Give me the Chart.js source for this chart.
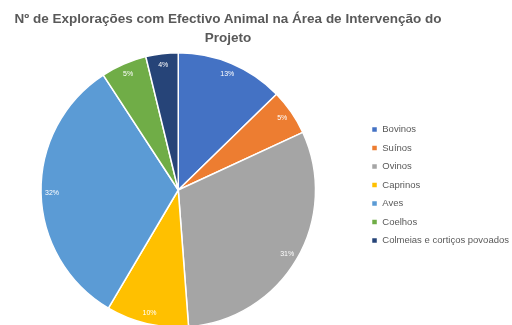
<!DOCTYPE html>
<html>
<head>
<meta charset="utf-8">
<script src="https://cdn.jsdelivr.net/npm/chart.js@4.4.0/dist/chart.umd.min.js"></script>
<style>
  html, body { margin: 0; padding: 0; background: #ffffff; }
  #wrap { position: relative; width: 512px; height: 325px; overflow: hidden; }
  #title { position: absolute; left: 0; top: 9px; width: 456px; text-align: center;
           font: bold 13.5px "Liberation Sans", Arial, sans-serif; color: #595959; line-height: 19px; z-index: 2; }
  canvas { position: absolute; left: 0; top: 0; }
</style>
</head>
<body>
<div id="wrap">
  <div id="title">Nº de Explorações com Efectivo Animal na Área de Intervenção do<br>Projeto</div>
  <canvas id="c" width="512" height="330"></canvas>
</div>
<script>
const categories = ["Bovinos", "Suínos", "Ovinos", "Caprinos", "Aves", "Coelhos", "Colmeias e cortiços povoados"];
const values = [12.7, 5.4, 30.7, 9.7, 32.3, 5.4, 3.8];
const colors = ["#4472C4", "#ED7D31", "#A5A5A5", "#FFC000", "#5B9BD5", "#70AD47", "#264478"];

const total = values.reduce((a, b) => a + b, 0);

const labelPlugin = {
  id: 'sliceLabels',
  afterDatasetsDraw(chart) {
    const ctx = chart.ctx;
    const meta = chart.getDatasetMeta(0);
    ctx.save();
    ctx.fillStyle = '#ffffff';
    ctx.font = '7px "Liberation Sans", Arial, sans-serif';
    ctx.textAlign = 'center';
    ctx.textBaseline = 'middle';
    meta.data.forEach((arc, i) => {
      const p = arc.getProps(['x', 'y', 'startAngle', 'endAngle', 'outerRadius'], true);
      const mid = (p.startAngle + p.endAngle) / 2;
      const r = p.outerRadius - 11;
      const txt = Math.round(values[i] / total * 100) + '%';
      ctx.fillText(txt, p.x + Math.cos(mid) * r, p.y + Math.sin(mid) * r);
    });
    ctx.restore();
  }
};

// nudge the legend box to sit where the reference legend sits
const legendNudge = {
  id: 'legendNudge',
  afterLayout(chart) {
    const lg = chart.legend;
    if (!lg) return;
    lg.left += 8; lg.right += 8;
    lg.top -= 5; lg.bottom -= 5;
  }
};

new Chart(document.getElementById('c'), {
  type: 'pie',
  data: {
    labels: categories,
    datasets: [{
      data: values,
      backgroundColor: colors,
      borderColor: '#ffffff',
      borderWidth: 1.5
    }]
  },
  options: {
    responsive: false,
    animation: false,
    layout: { padding: { top: 52, bottom: 2, left: 2, right: 1 } },
    plugins: {
      legend: {
        position: 'right',
        align: 'center',
        labels: {
          boxWidth: 6,
          boxHeight: 6,
          padding: 9,
          color: '#595959',
          font: { size: 9.5, family: '"Liberation Sans", Arial, sans-serif' }
        }
      },
      title: { display: false },
      tooltip: { enabled: false }
    }
  },
  plugins: [labelPlugin, legendNudge]
});
</script>
</body>
</html>
